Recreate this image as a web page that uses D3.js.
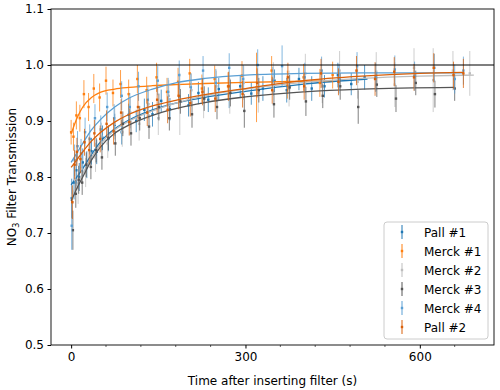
<!DOCTYPE html>
<html>
<head>
<meta charset="utf-8">
<title>NO3 filter transmission</title>
<script src="https://cdn.jsdelivr.net/npm/d3@7"></script>
<style>
  body { margin: 0; background: #fff; }
  svg text { font-family: "DejaVu Sans", sans-serif; font-size: 12px; fill: #000; }
</style>
</head>
<body>
<div id="chart"></div>
<script>
// series names and colours (legend order)
var names = ["Pall #1", "Merck #1", "Merck #2", "Merck #3", "Merck #4", "Pall #2"];
var colors = ["#1f77b4", "#ff7f0e", "#bdbdbd", "#555555", "#5a9fd4", "#d9600a"];

var xTicks = [0, 300, 600];
var xMinor = [60, 120, 180, 240, 360, 420, 480, 540, 660];
var yTicks = [0.5, 0.6, 0.7, 0.8, 0.9, 1.0, 1.1];

// measured points: time (s), transmission, error
var pall1T = [1, 5, 9, 14, 20, 27, 35, 44, 54, 64, 75, 87, 99, 112, 126, 140, 155, 170, 186, 202, 219, 236, 254, 272, 291, 310, 330, 350, 371, 392, 414, 436, 459, 482, 505];
var pall1V = [.762, .790, .812, .800, .826, .822, .846, .845, .870, .868, .893, .880, .911, .900, .920, .912, .936, .921, .944, .928, .950, .938, .957, .945, .962, .949, .958, .972, .955, .975, .958, .962, .982, .966, .978];
var pall1E = [.035, .03, .028, .025, .025, .024, .024, .022, .022, .022, .02, .022, .02, .02, .02, .022, .02, .02, .022, .02, .02, .022, .02, .022, .02, .02, .022, .02, .022, .02, .022, .02, .022, .02, .022];

var merck1T = [0, 4, 9, 15, 22, 30, 39, 49, 60, 72, 85, 99, 114, 130, 147, 165, 184, 204, 225, 247, 270, 294, 319, 345, 372, 400, 428, 450];
var merck1V = [.880, .872, .910, .905, .948, .925, .958, .942, .972, .950, .966, .948, .975, .955, .978, .952, .970, .985, .958, .975, .962, .981, .960, .990, .965, .978, .968, .982];
var merck1E = [.022, .025, .025, .024, .025, .025, .026, .025, .025, .024, .025, .026, .025, .024, .026, .025, .025, .026, .025, .024, .025, .026, .062, .026, .025, .024, .025, .024];

var merck2T = [2, 7, 12, 18, 25, 33, 42, 52, 63, 75, 88, 102, 117, 133, 150, 168, 187, 207, 228, 250, 273, 297, 322, 348, 375, 403, 432, 462, 493, 525, 557, 590, 623, 657, 686];
var merck2V = [.755, .795, .780, .815, .808, .842, .835, .872, .860, .895, .880, .915, .895, .930, .905, .945, .930, .955, .935, .962, .945, .968, .950, .975, .958, .985, .962, .990, .970, .988, .965, .995, .973, .990, .985];
var merck2E = [.03, .028, .028, .026, .026, .026, .026, .025, .026, .028, .026, .028, .03, .026, .03, .028, .055, .03, .03, .028, .032, .03, .035, .03, .032, .035, .03, .035, .03, .035, .04, .035, .057, .035, .04];

var merck3T = [3, 8, 13, 19, 26, 34, 43, 53, 64, 76, 89, 103, 118, 134, 151, 169, 188, 208, 229, 251, 274, 298, 323, 349, 376, 404, 433, 463, 494, 526, 559, 593, 626, 660];
var merck3V = [.705, .770, .795, .790, .822, .818, .848, .835, .870, .860, .895, .878, .905, .890, .925, .905, .935, .912, .940, .925, .950, .918, .955, .930, .960, .935, .945, .962, .925, .965, .940, .968, .948, .958];
var merck3E = [.035, .025, .025, .022, .022, .022, .022, .022, .022, .022, .022, .022, .022, .022, .024, .022, .022, .024, .022, .022, .024, .03, .022, .024, .022, .026, .022, .024, .03, .022, .024, .022, .024, .022];

var merck4T = [1, 6, 11, 17, 24, 32, 41, 51, 62, 74, 87, 101, 116, 132, 149, 167, 186, 206, 227, 249, 272, 296, 321, 347, 363, 402, 431, 461, 492, 524, 557, 591, 625, 660, 675];
var merck4V = [.713, .830, .855, .842, .880, .868, .905, .885, .925, .905, .945, .925, .962, .938, .972, .952, .982, .960, .990, .968, .995, .975, 1.000, .972, .998, .978, .990, .975, .998, .978, .992, .980, .995, .975, .990];
var merck4E = [.043, .028, .027, .026, .026, .026, .025, .025, .026, .025, .026, .025, .026, .025, .026, .025, .026, .025, .026, .025, .026, .025, .028, .025, .037, .026, .025, .026, .025, .026, .025, .026, .025, .026, .025];

var pall2T = [2, 6, 10, 16, 23, 31, 40, 50, 61, 73, 86, 100, 115, 131, 148, 166, 185, 205, 226, 248, 271, 295, 320, 346, 373, 401, 430, 460, 491, 523, 556, 590, 624, 658, 675];
var pall2V = [.755, .822, .845, .832, .862, .848, .878, .868, .895, .882, .915, .898, .925, .915, .938, .920, .945, .932, .952, .940, .962, .948, .968, .955, .978, .962, .985, .970, .990, .975, .988, .978, .995, .982, .985];
var pall2E = [.03, .026, .025, .025, .024, .024, .024, .024, .024, .024, .024, .024, .024, .024, .024, .024, .024, .024, .024, .024, .026, .024, .026, .024, .026, .024, .026, .024, .026, .03, .026, .024, .026, .024, .026];

// fitted curves: [time, transmission]
var pall1Fit = [[0, .786], [10, .800], [20, .815], [35, .840], [50, .862], [75, .886], [100, .902], [140, .920], [180, .932], [230, .942], [300, .953], [400, .966], [510, .975]];
var merck1Fit = [[0, .877], [10, .905], [20, .925], [35, .942], [50, .951], [75, .957], [100, .960], [140, .963], [180, .965], [230, .967], [300, .969], [400, .971], [450, .972]];
var merck2Fit = [[0, .765], [10, .787], [20, .806], [35, .835], [50, .858], [75, .884], [100, .900], [140, .918], [180, .932], [230, .945], [300, .957], [400, .969], [500, .976], [600, .980], [693, .982]];
var merck3Fit = [[0, .757], [10, .780], [20, .800], [35, .830], [50, .853], [75, .878], [100, .893], [140, .910], [180, .922], [230, .933], [300, .943], [400, .952], [500, .957], [660, .960]];
var merck4Fit = [[0, .826], [10, .843], [20, .860], [35, .884], [50, .902], [75, .925], [100, .941], [140, .957], [180, .968], [230, .976], [300, .982], [400, .985], [500, .986], [675, .986]];
var pall2Fit = [[0, .817], [10, .831], [20, .845], [35, .864], [50, .879], [75, .898], [100, .912], [140, .927], [180, .937], [230, .947], [300, .958], [400, .972], [500, .980], [600, .985], [675, .987]];

var series = [
  {t: pall1T, v: pall1V, e: pall1E, fit: pall1Fit},
  {t: merck1T, v: merck1V, e: merck1E, fit: merck1Fit},
  {t: merck2T, v: merck2V, e: merck2E, fit: merck2Fit},
  {t: merck3T, v: merck3V, e: merck3E, fit: merck3Fit},
  {t: merck4T, v: merck4V, e: merck4E, fit: merck4Fit},
  {t: pall2T, v: pall2V, e: pall2E, fit: pall2Fit}
];

var W = 500, H = 390;
// plot area edges (window.top is reserved, so prefixed names)
var pL = 51, pR = 494, pT = 9, pB = 345;

var svg = d3.select("#chart").append("svg")
  .attr("width", W).attr("height", H);

var x = d3.scaleLinear().domain([-34.65, 727.65]).range([pL, pR]);
var y = d3.scaleLinear().domain([0.5, 1.1]).range([pB, pT]);

svg.append("clipPath").attr("id", "clip")
  .append("rect").attr("x", pL).attr("y", pT).attr("width", pR - pL).attr("height", pB - pT);
var g = svg.append("g").attr("clip-path", "url(#clip)");

var line = d3.line()
  .x(function(d) { return x(d[0]); })
  .y(function(d) { return y(d[1]); })
  .curve(d3.curveMonotoneX);

series.forEach(function(s, k) {
  var pts = s.t.map(function(t, i) { return {t: t, v: s.v[i], e: s.e[i]}; });
  var sg = g.append("g");
  sg.selectAll(".err").data(pts).enter().append("line")
    .attr("class", "err")
    .attr("x1", function(d) { return x(d.t); })
    .attr("x2", function(d) { return x(d.t); })
    .attr("y1", function(d) { return y(d.v - d.e); })
    .attr("y2", function(d) { return y(d.v + d.e); })
    .attr("stroke", colors[k])
    .attr("stroke-opacity", 0.75)
    .attr("stroke-width", 1);
  sg.selectAll(".pt").data(pts).enter().append("rect")
    .attr("class", "pt")
    .attr("x", function(d) { return x(d.t) - 1.2; })
    .attr("y", function(d) { return y(d.v) - 1.2; })
    .attr("width", 2.4).attr("height", 2.4)
    .attr("fill", colors[k]);
  sg.append("path")
    .datum(s.fit)
    .attr("d", line)
    .attr("fill", "none")
    .attr("stroke", colors[k])
    .attr("stroke-width", 1.3);
});

// reference line at 1.0
svg.append("line")
  .attr("x1", pL).attr("x2", pR)
  .attr("y1", y(1.0)).attr("y2", y(1.0))
  .attr("stroke", "#000").attr("stroke-width", 1.2);

// axes
var xAxis = d3.axisBottom(x).tickValues(xTicks).tickSize(3.5).tickPadding(3.5).tickFormat(d3.format("d"));
var gx = svg.append("g").attr("transform", "translate(0," + pB + ")").call(xAxis);
gx.select(".domain").remove();
gx.selectAll("text").style("font-size", "12px").attr("font-family", null);

svg.append("g").attr("transform", "translate(0," + pB + ")")
  .selectAll("line").data(xMinor).enter().append("line")
  .attr("x1", function(d) { return x(d); }).attr("x2", function(d) { return x(d); })
  .attr("y1", 0).attr("y2", 2)
  .attr("stroke", "#000").attr("stroke-width", 0.6);

var yAxis = d3.axisLeft(y).tickValues(yTicks).tickSize(3.5).tickPadding(3.5).tickFormat(d3.format(".1f"));
var gy = svg.append("g").attr("transform", "translate(" + pL + ",0)").call(yAxis);
gy.select(".domain").remove();
gy.selectAll("text").style("font-size", "12px").attr("font-family", null);

svg.append("rect")
  .attr("x", pL).attr("y", pT).attr("width", pR - pL).attr("height", pB - pT)
  .attr("fill", "none").attr("stroke", "#000").attr("stroke-width", 0.9);

// axis labels
svg.append("text")
  .attr("x", (pL + pR) / 2).attr("y", 385)
  .attr("text-anchor", "middle")
  .text("Time after inserting filter (s)");

var yl = svg.append("text")
  .attr("transform", "translate(16," + ((pT + pB) / 2) + ") rotate(-90)")
  .attr("text-anchor", "middle");
yl.append("tspan").text("NO");
yl.append("tspan").attr("dy", 3).style("font-size", "8px").text("3");
yl.append("tspan").attr("dy", -3).text(" Filter Transmission");

// legend
var lg = svg.append("g").attr("transform", "translate(384,222)");
lg.append("rect")
  .attr("width", 104).attr("height", 117).attr("rx", 3)
  .attr("fill", "#fff").attr("fill-opacity", 0.8)
  .attr("stroke", "#ccc").attr("stroke-width", 1);
var items = lg.selectAll(".item").data(names).enter().append("g")
  .attr("transform", function(d, i) { return "translate(0," + (10 + i * 19) + ")"; });
items.append("line")
  .attr("x1", 18).attr("x2", 18).attr("y1", -7).attr("y2", 7)
  .attr("stroke", function(d, i) { return colors[i]; })
  .attr("stroke-width", 1);
items.append("rect")
  .attr("x", 16.8).attr("y", -1.2).attr("width", 2.4).attr("height", 2.4)
  .attr("fill", function(d, i) { return colors[i]; });
items.append("text")
  .attr("x", 40).attr("y", 4.5)
  .text(function(d) { return d; });
</script>
</body>
</html>
